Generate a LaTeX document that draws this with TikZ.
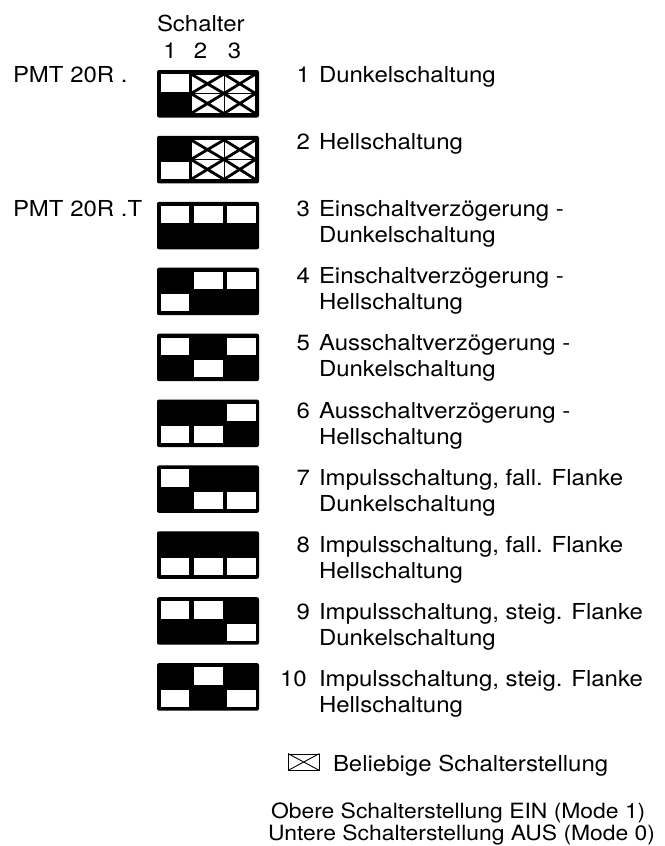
\documentclass[tikz,border=0pt]{standalone}
\usepackage{fontspec}
\setmainfont{TeX Gyre Heros}[FakeStretch=1.09]
\tikzset{
  txt/.style={inner sep=0pt, outer sep=0pt, font=\fontsize{22}{26}\selectfont},
  lbl/.style={txt, anchor=base west},
  num/.style={txt, anchor=base east},
  small/.style={inner sep=0pt, outer sep=0pt, anchor=base west, font=\fontsize{21}{24}\selectfont},
  blockframe/.style={fill=black, rounded corners=2pt, minimum width=102pt, minimum height=47.5pt, inner sep=0pt, outer sep=0pt, anchor=north west},
  window/.style={fill=white},
  xcell/.style={fill=white, draw=black, line width=1pt},
  xline/.style={draw=black, line width=2.8pt},
}
% column x-ranges of the white windows
\def\cAa{160.5}\def\cAb{189}
\def\cBa{193.5}\def\cBb{222.5}
\def\cCa{227}\def\cCb{256}
\newcommand\SwCellB[3]{}
\newcommand\SwCellW[3]{%
  \ifnum#2=1 \def\xa{\cAa}\def\xb{\cAb}\fi
  \ifnum#2=2 \def\xa{\cBa}\def\xb{\cBb}\fi
  \ifnum#2=3 \def\xa{\cCa}\def\xb{\cCb}\fi
  \ifnum#3=1 \def\ya{4}\def\yb{21.5}\else \def\ya{26.5}\def\yb{43.5}\fi
  \fill[window] (\xa,#1+\ya) rectangle (\xb,#1+\yb);%
}
\newcommand\SwCellX[3]{%
  \ifnum#2=2 \def\xa{191}\def\xb{224}\fi
  \ifnum#2=3 \def\xa{224}\def\xb{255.5}\fi
  \ifnum#3=1 \def\ya{4}\def\yb{23.5}\else \def\ya{23.5}\def\yb{43.5}\fi
  \draw[xcell] (\xa,#1+\ya) rectangle (\xb,#1+\yb);
  \begin{scope}
    \clip (\xa,#1+\ya) rectangle (\xb,#1+\yb);
    \draw[xline] (\xa,#1+\ya) -- (\xb,#1+\yb) (\xa,#1+\yb) -- (\xb,#1+\ya);
  \end{scope}%
}
\newcommand\SwBlock[8]{%
  \node[blockframe] (#1) at (157,#2) {};
  \csname SwCell#3\endcsname{#2}{1}{1}%
  \csname SwCell#4\endcsname{#2}{2}{1}%
  \csname SwCell#5\endcsname{#2}{3}{1}%
  \csname SwCell#6\endcsname{#2}{1}{2}%
  \csname SwCell#7\endcsname{#2}{2}{2}%
  \csname SwCell#8\endcsname{#2}{3}{2}%
}
\begin{document}
\begin{tikzpicture}[x=1pt,y=-1pt]
\useasboundingbox (0,0) rectangle (664,846);

% header
\node[lbl] (schalter) at (157,31) {Schalter};
\node[txt, anchor=base] (s1) at (170,58) {1};
\node[txt, anchor=base] (s2) at (200.5,58) {2};
\node[txt, anchor=base] (s3) at (234.5,58) {3};

% left type labels
\node[lbl] (pmt) at (13,82.5) {PMT 20R .};
\node[lbl] (pmtt) at (13,216.7) {PMT 20R .T};

% switch blocks
\SwBlock{b1}{70}{W}{X}{X}{B}{X}{X}
\SwBlock{b2}{135.9}{B}{X}{X}{W}{X}{X}
\SwBlock{b3}{201.8}{W}{W}{W}{B}{B}{B}
\SwBlock{b4}{267.7}{B}{W}{W}{W}{B}{B}
\SwBlock{b5}{333.6}{W}{B}{W}{B}{W}{B}
\SwBlock{b6}{399.5}{B}{B}{W}{W}{W}{B}
\SwBlock{b7}{465.4}{W}{B}{B}{B}{W}{W}
\SwBlock{b8}{531.3}{B}{B}{B}{W}{W}{W}
\SwBlock{b9}{597.2}{W}{W}{B}{B}{B}{W}
\SwBlock{b10}{663.1}{B}{W}{B}{W}{B}{W}

% descriptions
\node[num] (n1) at (310,82.5) {1};
\node[lbl] (t1) at (319,82.5) {Dunkelschaltung};
\node[num] (n2) at (310,149.6) {2};
\node[lbl] (t2) at (319,149.6) {Hellschaltung};
\foreach \n/\a/\b in {3/{Einschaltverzögerung -}/{Dunkelschaltung},
                      4/{Einschaltverzögerung -}/{Hellschaltung},
                      5/{Ausschaltverzögerung -}/{Dunkelschaltung},
                      6/{Ausschaltverzögerung -}/{Hellschaltung},
                      7/{Impulsschaltung, fall. Flanke}/{Dunkelschaltung},
                      8/{Impulsschaltung, fall. Flanke}/{Hellschaltung},
                      9/{Impulsschaltung, steig. Flanke}/{Dunkelschaltung}}{
  \pgfmathsetmacro\yb{82.5+67.1*(\n-1)}
  \node[num] (n\n) at (310,\yb) {\n};
  \node[lbl] (t\n a) at (319,\yb) {\a};
  \node[lbl] (t\n b) at (319,\yb+26) {\b};
}
\node[lbl] (n10) at (280,686.4) {10};
\node[lbl] (t10a) at (319,686.4) {Impulsschaltung, steig. Flanke};
\node[lbl] (t10b) at (319,712.4) {Hellschaltung};

% legend
\node[draw=black, line width=0.9pt, minimum width=30.5pt, minimum height=16pt, inner sep=0pt] (legicon) at (303.7,762) {};
\draw[line width=0.9pt] (legicon.north west) -- (legicon.south east)
                        (legicon.south west) -- (legicon.north east);
\node[lbl] (legtxt) at (333,771.5) {Beliebige Schalterstellung};
\node[small] (obere) at (271,818) {Obere Schalterstellung EIN (Mode 1)};
\node[small] (untere) at (268,840) {Untere Schalterstellung AUS (Mode 0)};
\end{tikzpicture}
\end{document}
